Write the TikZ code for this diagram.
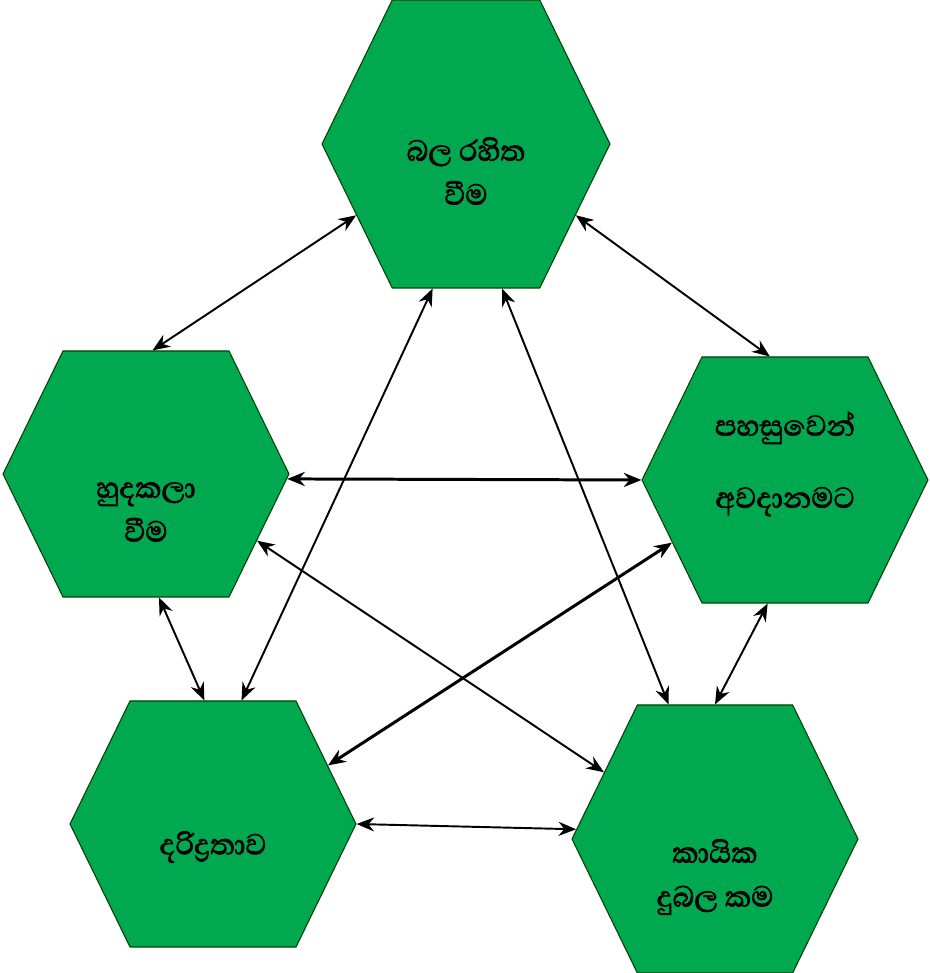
\documentclass[tikz,border=0pt]{standalone}
\usepackage{fontspec}
\newfontfamily\sinhalafont[Script=Sinhala, FakeBold=2]{Abhaya Libre}
\usetikzlibrary{shapes.symbols,arrows.meta}
\definecolor{hexgreen}{RGB}{0,168,80}

\begin{document}
\begin{tikzpicture}[
    hex/.style = {signal, signal to=east and west, signal pointer angle=128, fill=hexgreen,
                  draw=black!75!green, line width=0.6pt, inner sep=0pt,
                  minimum width=5.72cm, minimum height=4.92cm},
    lbl/.style = {font=\sinhalafont\fontsize{21}{25}\selectfont, align=center},
    link/.style = {{Stealth[length=10pt,width=8pt]}-{Stealth[length=10pt,width=8pt]}, line width=1.1pt},
    boldlink/.style = {link, line width=1.7pt}
  ]
  \useasboundingbox (0,0) rectangle (18.6,19.46);

  \node[hex, minimum width=5.76cm, minimum height=5.76cm] (power) at (9.32,16.58) {};
  \node[hex] (isol) at (2.92,9.98) {};
  \node[hex] (vuln) at (15.70,9.86) {};
  \node[hex] (pov) at (4.26,2.98) {};
  \node[hex, minimum height=5.36cm] (weak) at (14.30,2.68) {};

  \node[lbl] (power-t) at ([yshift=-0.54cm]power.center) {බල රහිත\\වීම};
  \node[lbl] (isol-t) at ([yshift=-0.76cm]isol.center) {හුදකලා\\වීම};
  \node[lbl] (vuln-t) at ([yshift=0.32cm]vuln.center) {පහසුවෙන්\\[16pt]අවදානමට};
  \node[lbl] (pov-t) at ([yshift=-0.46cm]pov.center) {දරිද්‍රතාව};
  \node[lbl] (weak-t) at ([yshift=-0.76cm]weak.center) {කායික\\දුබල කම};

  \draw[link] (power.213) -- (isol.87);
  \draw[link] (power.327) -- (vuln.97);
  \draw[link] (power.257) -- (pov.77);
  \draw[link] (power.284) -- (weak.109);
  \draw[boldlink] (isol.358) -- (vuln.180);
  \draw[link] (isol.329) -- (weak.149);
  \draw[boldlink] (vuln.209) -- (pov.27);
  \draw[link] (isol.276) -- (pov.94);
  \draw[link] (vuln.262) -- (weak.90);
  \draw[link] (pov.0) -- (weak.176);
\end{tikzpicture}
\end{document}
